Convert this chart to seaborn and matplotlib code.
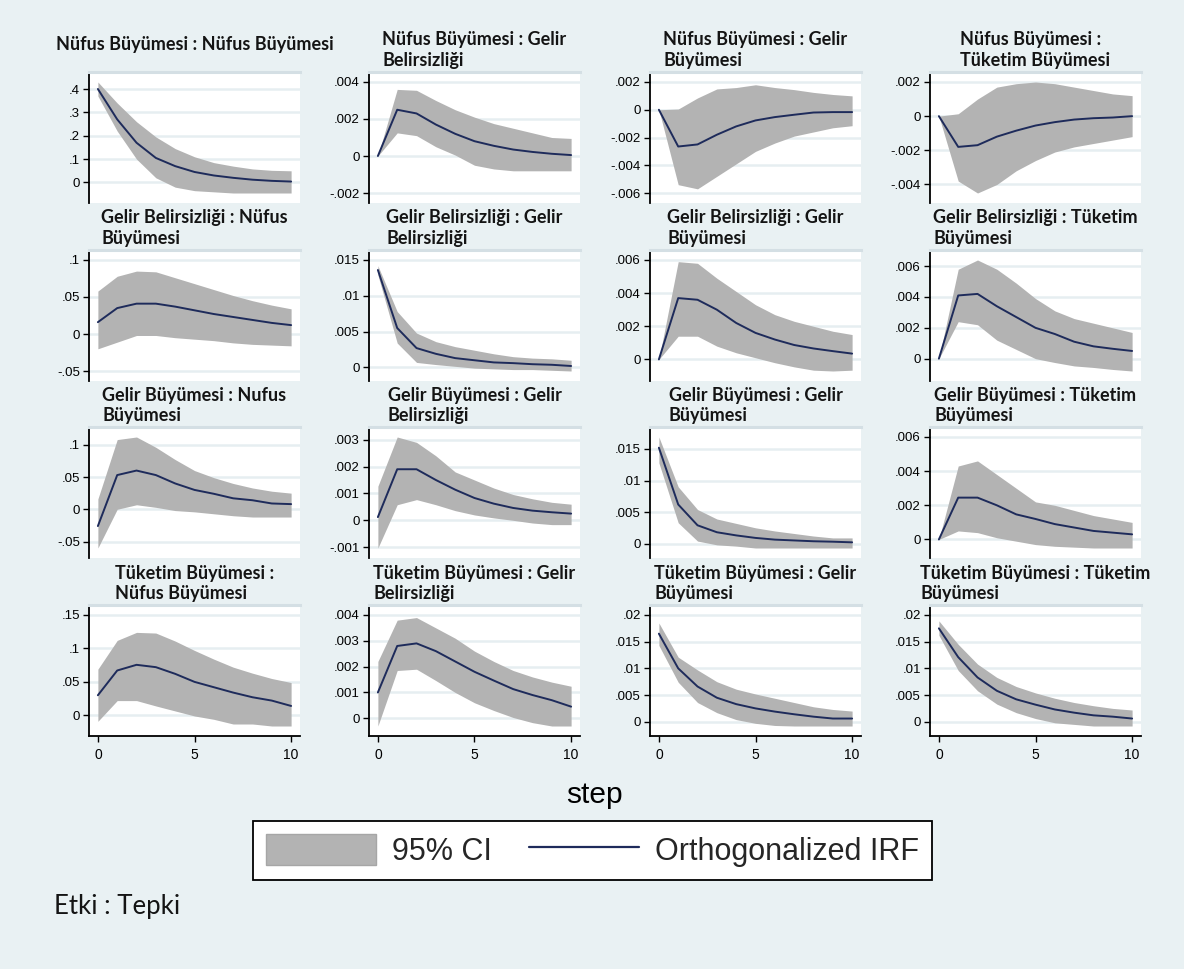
import matplotlib
matplotlib.use("Agg")
import matplotlib.pyplot as plt
from matplotlib.patches import Patch
from matplotlib.lines import Line2D
import numpy as np
import pandas as pd
import seaborn as sns

# ---------------------------------------------------------------------------
# Orthogonalized impulse responses, steps 0..10 (impulse : response)
# pop = Nüfus Büyümesi, unc = Gelir Belirsizliği,
# inc = Gelir Büyümesi, con = Tüketim Büyümesi
# ---------------------------------------------------------------------------
steps = list(range(11))

pop_pop_irf = [0.40, 0.27, 0.17, 0.105, 0.07, 0.045, 0.03, 0.02, 0.012, 0.007, 0.004]
pop_pop_lo = [0.37, 0.22, 0.10, 0.02, -0.02, -0.035, -0.04, -0.045, -0.045, -0.045, -0.045]
pop_pop_hi = [0.43, 0.34, 0.26, 0.195, 0.145, 0.11, 0.085, 0.07, 0.058, 0.052, 0.05]

pop_unc_irf = [0.0, 0.0025, 0.0023, 0.0017, 0.0012, 0.0008, 0.00055, 0.00035, 0.00022, 0.00012, 0.00005]
pop_unc_lo = [0.0, 0.00125, 0.0011, 0.0005, 0.00005, -0.0005, -0.0007, -0.0008, -0.0008, -0.0008, -0.0008]
pop_unc_hi = [0.0, 0.0036, 0.00355, 0.003, 0.0025, 0.0021, 0.00175, 0.0015, 0.00125, 0.001, 0.00095]

pop_inc_irf = [0.0, -0.00265, -0.0025, -0.0018, -0.0012, -0.00077, -0.00053, -0.00036, -0.0002, -0.00017, -0.00017]
pop_inc_lo = [0.0, -0.0054, -0.0057, -0.0048, -0.0039, -0.003, -0.0024, -0.0019, -0.0016, -0.0013, -0.00115]
pop_inc_hi = [0.0, 0.00005, 0.00085, 0.0015, 0.0016, 0.0018, 0.0016, 0.00145, 0.00125, 0.0011, 0.001]

pop_con_irf = [0.0, -0.0018, -0.0017, -0.0012, -0.00085, -0.00055, -0.00035, -0.0002, -0.00012, -0.00008, 0.0]
pop_con_lo = [0.0, -0.0038, -0.0045, -0.004, -0.0032, -0.0026, -0.0021, -0.0018, -0.0016, -0.0014, -0.0012]
pop_con_hi = [0.0, 0.00014, 0.001, 0.0017, 0.0019, 0.002, 0.0019, 0.0017, 0.0015, 0.0013, 0.0012]

unc_pop_irf = [0.016, 0.035, 0.041, 0.041, 0.037, 0.032, 0.027, 0.023, 0.019, 0.015, 0.012]
unc_pop_lo = [-0.02, -0.011, -0.002, -0.002, -0.005, -0.007, -0.009, -0.012, -0.014, -0.015, -0.016]
unc_pop_hi = [0.058, 0.078, 0.085, 0.084, 0.076, 0.068, 0.06, 0.052, 0.045, 0.039, 0.034]

unc_unc_irf = [0.0136, 0.0055, 0.0027, 0.0019, 0.0013, 0.001, 0.0007, 0.0006, 0.00045, 0.00037, 0.0002]
unc_unc_lo = [0.0129, 0.0034, 0.0007, 0.0004, 0.00015, -0.0001, -0.0002, -0.0003, -0.0003, -0.0004, -0.0005]
unc_unc_hi = [0.0142, 0.0078, 0.0048, 0.0036, 0.0029, 0.0024, 0.0019, 0.0015, 0.0013, 0.0012, 0.001]

unc_inc_irf = [0.0, 0.0037, 0.0036, 0.003, 0.0022, 0.0016, 0.0012, 0.00087, 0.00066, 0.0005, 0.00035]
unc_inc_lo = [0.0, 0.0014, 0.0014, 0.0008, 0.0004, 0.0001, -0.0002, -0.00045, -0.00065, -0.0007, -0.00065]
unc_inc_hi = [0.0, 0.0059, 0.0058, 0.0049, 0.0041, 0.0033, 0.0027, 0.0023, 0.002, 0.0017, 0.0015]

unc_con_irf = [0.0, 0.0041, 0.0042, 0.0034, 0.0027, 0.002, 0.0016, 0.0011, 0.0008, 0.00064, 0.0005]
unc_con_lo = [0.0, 0.0024, 0.0022, 0.0012, 0.0006, 0.0, -0.00025, -0.00047, -0.00057, -0.0007, -0.0008]
unc_con_hi = [0.0, 0.0058, 0.0064, 0.0058, 0.0049, 0.0039, 0.0031, 0.0026, 0.0023, 0.002, 0.0017]

inc_pop_irf = [-0.026, 0.053, 0.06, 0.053, 0.04, 0.03, 0.024, 0.017, 0.014, 0.009, 0.008]
inc_pop_lo = [-0.06, 0.0, 0.007, 0.003, -0.002, -0.004, -0.007, -0.01, -0.012, -0.012, -0.012]
inc_pop_hi = [0.016, 0.108, 0.112, 0.096, 0.077, 0.06, 0.049, 0.04, 0.033, 0.028, 0.025]

inc_unc_irf = [0.00012, 0.0019, 0.0019, 0.0015, 0.00114, 0.00083, 0.00062, 0.00046, 0.00036, 0.0003, 0.00025]
inc_unc_lo = [-0.00103, 0.00058, 0.00077, 0.00058, 0.00036, 0.0002, 0.00009, 0.0, -0.0001, -0.00016, -0.00016]
inc_unc_hi = [0.00127, 0.0031, 0.0029, 0.0024, 0.0018, 0.0015, 0.0012, 0.00096, 0.0008, 0.00067, 0.0006]

inc_inc_irf = [0.0152, 0.0062, 0.0029, 0.0018, 0.0013, 0.0009, 0.00063, 0.0005, 0.00037, 0.0003, 0.0002]
inc_inc_lo = [0.0128, 0.0033, 0.0004, -0.0002, -0.0004, -0.0007, -0.0007, -0.0007, -0.0007, -0.0007, -0.0007]
inc_inc_hi = [0.0169, 0.009, 0.0054, 0.0039, 0.0032, 0.0025, 0.002, 0.0016, 0.0012, 0.0009, 0.0009]

inc_con_irf = [0.0, 0.00245, 0.00245, 0.002, 0.00147, 0.0012, 0.0009, 0.0007, 0.0005, 0.0004, 0.0003]
inc_con_lo = [0.0, 0.0005, 0.0004, 0.0001, -0.0001, -0.0003, -0.0004, -0.00045, -0.0005, -0.0005, -0.0005]
inc_con_hi = [0.0, 0.0043, 0.0046, 0.0038, 0.003, 0.0022, 0.002, 0.0017, 0.0014, 0.0012, 0.001]

con_pop_irf = [0.03, 0.067, 0.0755, 0.072, 0.062, 0.05, 0.042, 0.034, 0.027, 0.022, 0.014]
con_pop_lo = [-0.009, 0.022, 0.022, 0.014, 0.0065, -0.001, -0.006, -0.013, -0.013, -0.016, -0.016]
con_pop_hi = [0.069, 0.112, 0.124, 0.123, 0.111, 0.097, 0.084, 0.072, 0.063, 0.055, 0.049]

con_unc_irf = [0.001, 0.0028, 0.0029, 0.0026, 0.0022, 0.0018, 0.00146, 0.00113, 0.0009, 0.0007, 0.00045]
con_unc_lo = [-0.0003, 0.00185, 0.0019, 0.00146, 0.001, 0.0006, 0.0003, 0.00003, -0.00017, -0.0003, -0.0003]
con_unc_hi = [0.0022, 0.0038, 0.0039, 0.0035, 0.0031, 0.0026, 0.0022, 0.00185, 0.0016, 0.0014, 0.00124]

con_inc_irf = [0.0165, 0.01, 0.0066, 0.0045, 0.0033, 0.0025, 0.0019, 0.0014, 0.00095, 0.0006, 0.0006]
con_inc_lo = [0.0143, 0.0074, 0.0036, 0.0017, 0.0004, -0.0003, -0.0007, -0.0008, -0.0008, -0.0008, -0.0008]
con_inc_hi = [0.0185, 0.0121, 0.0097, 0.0075, 0.0061, 0.0052, 0.0044, 0.0036, 0.0028, 0.0023, 0.002]

con_con_irf = [0.0175, 0.0121, 0.0083, 0.0058, 0.0042, 0.0032, 0.0023, 0.0017, 0.0012, 0.00095, 0.0006]
con_con_lo = [0.0162, 0.0096, 0.0058, 0.0033, 0.0017, 0.0006, -0.0002, -0.0005, -0.0008, -0.0008, -0.0008]
con_con_hi = [0.0189, 0.0145, 0.0108, 0.0083, 0.0066, 0.0054, 0.0044, 0.0036, 0.003, 0.0025, 0.0022]

# panel titles, row by row
titles = [
    "Nüfus Büyümesi : Nüfus Büyümesi",
    "Nüfus Büyümesi : Gelir\nBelirsizliği",
    "Nüfus Büyümesi : Gelir\nBüyümesi",
    "Nüfus Büyümesi :\nTüketim Büyümesi",
    "Gelir Belirsizliği : Nüfus\nBüyümesi",
    "Gelir Belirsizliği : Gelir\nBelirsizliği",
    "Gelir Belirsizliği : Gelir\nBüyümesi",
    "Gelir Belirsizliği : Tüketim\nBüyümesi",
    "Gelir Büyümesi : Nufus\nBüyümesi",
    "Gelir Büyümesi : Gelir\nBelirsizliği",
    "Gelir Büyümesi : Gelir\nBüyümesi",
    "Gelir Büyümesi : Tüketim\nBüyümesi",
    "Tüketim Büyümesi :\nNüfus Büyümesi",
    "Tüketim Büyümesi : Gelir\nBelirsizliği",
    "Tüketim Büyümesi : Gelir\nBüyümesi",
    "Tüketim Büyümesi : Tüketim\nBüyümesi",
]

# y-axis ticks of each panel, row by row
yticks = [
    [0, 0.1, 0.2, 0.3, 0.4],
    [-0.002, 0, 0.002, 0.004],
    [-0.006, -0.004, -0.002, 0, 0.002],
    [-0.004, -0.002, 0, 0.002],
    [-0.05, 0, 0.05, 0.1],
    [0, 0.005, 0.01, 0.015],
    [0, 0.002, 0.004, 0.006],
    [0, 0.002, 0.004, 0.006],
    [-0.05, 0, 0.05, 0.1],
    [-0.001, 0, 0.001, 0.002, 0.003],
    [0, 0.005, 0.01, 0.015],
    [0, 0.002, 0.004, 0.006],
    [0, 0.05, 0.1, 0.15],
    [0, 0.001, 0.002, 0.003, 0.004],
    [0, 0.005, 0.01, 0.015, 0.02],
    [0, 0.005, 0.01, 0.015, 0.02],
]
xticks = [0, 5, 10]

series = [
    (pop_pop_irf, pop_pop_lo, pop_pop_hi), (pop_unc_irf, pop_unc_lo, pop_unc_hi),
    (pop_inc_irf, pop_inc_lo, pop_inc_hi), (pop_con_irf, pop_con_lo, pop_con_hi),
    (unc_pop_irf, unc_pop_lo, unc_pop_hi), (unc_unc_irf, unc_unc_lo, unc_unc_hi),
    (unc_inc_irf, unc_inc_lo, unc_inc_hi), (unc_con_irf, unc_con_lo, unc_con_hi),
    (inc_pop_irf, inc_pop_lo, inc_pop_hi), (inc_unc_irf, inc_unc_lo, inc_unc_hi),
    (inc_inc_irf, inc_inc_lo, inc_inc_hi), (inc_con_irf, inc_con_lo, inc_con_hi),
    (con_pop_irf, con_pop_lo, con_pop_hi), (con_unc_irf, con_unc_lo, con_unc_hi),
    (con_inc_irf, con_inc_lo, con_inc_hi), (con_con_irf, con_con_lo, con_con_hi),
]

# ---------------------------------------------------------------------------
# styling
# ---------------------------------------------------------------------------
sns.set_style("white")
plt.rcParams["font.family"] = ["Liberation Sans", "DejaVu Sans"]

BG = "#E9F1F3"
GRID = "#E6EEF1"
BAND = "#D4DFE4"
CI_COLOR = "#B3B3B3"
LINE_COLOR = "#1E2B5B"
TITLE_FONT = ["Lato", "DejaVu Sans"]

W, H = 1184, 969
fig = plt.figure(figsize=(W / 100, H / 100), dpi=100, facecolor=BG)

col_left = [89, 369, 650, 930]
row_top = [72, 250, 427, 605]
pw, ph = 211, 131


def stata_fmt(v, _pos=None):
    if abs(v) < 1e-12:
        return "0"
    s = f"{v:g}"
    return s.replace("-0.", "-.").replace("0.", ".", 1) if s.startswith(("0.", "-0.")) else s


for k, (irf, lo, hi) in enumerate(series):
    r, c = divmod(k, 4)
    left, top = col_left[c], row_top[r]
    ax = fig.add_axes([left / W, 1 - (top + ph) / H, pw / W, ph / H])
    ax.set_facecolor("white")

    df = pd.DataFrame({"step": steps, "irf": irf, "lo": lo, "hi": hi})
    ax.fill_between(df["step"], df["lo"], df["hi"], color=CI_COLOR, lw=0, zorder=2)
    sns.lineplot(data=df, x="step", y="irf", ax=ax, color=LINE_COLOR, lw=1.4,
                 zorder=3, legend=False)

    ticks = yticks[k]
    ymin = min(ticks[0], min(lo))
    ymax = max(ticks[-1], max(hi))
    pad = 0.09 * (ymax - ymin)
    ax.set_ylim(ymin - pad, ymax + pad)
    ax.set_xlim(-0.46, 10.46)
    ax.set_yticks(ticks)
    ax.yaxis.set_major_formatter(plt.FuncFormatter(stata_fmt))
    ax.yaxis.grid(True, color=GRID, lw=1.8)
    ax.xaxis.grid(False)
    ax.set_axisbelow(True)
    ax.set_xlabel("")
    ax.set_ylabel("")

    ax.spines["left"].set_color("black")
    ax.spines["left"].set_linewidth(1.3)
    ax.spines["right"].set_visible(False)
    ax.spines["top"].set_color(BAND)
    ax.spines["top"].set_linewidth(2.2)
    ax.tick_params(axis="y", direction="out", length=4.5, width=1.0, pad=2,
                   labelsize=9.5, colors="black", left=True)
    if r == 3:
        ax.spines["bottom"].set_color("black")
        ax.spines["bottom"].set_linewidth(1.3)
        ax.set_xticks(xticks)
        ax.tick_params(axis="x", direction="out", length=4.5, width=1.0, pad=4,
                       labelsize=10, colors="black", bottom=True)
    else:
        ax.spines["bottom"].set_visible(False)
        ax.set_xticks([])

    title = titles[k]
    if "\n" in title:
        ty = top - 6
    else:
        ty = top - 22
    fig.text((left + pw / 2) / W, 1 - ty / H, title, ha="center", va="baseline",
             multialignment="left", fontsize=13, fontweight="bold",
             family=TITLE_FONT, color="#141414", linespacing=1.25)

# common x-axis title
fig.text(594 / W, 1 - 795 / H, "step", ha="center", va="center", fontsize=21.5,
         color="black")

# legend
handles = [
    Patch(facecolor=CI_COLOR, edgecolor="#A6A6A6", linewidth=1.0),
    Line2D([0], [0], color=LINE_COLOR, lw=1.6),
]
leg = fig.legend(handles, ["95% CI", "Orthogonalized IRF"], loc="center",
                 bbox_to_anchor=(592.5 / W, 1 - 850.5 / H), ncol=2,
                 fontsize=22, frameon=True, fancybox=False, shadow=False,
                 borderpad=0.42, handlelength=3.6, handleheight=1.15,
                 handletextpad=0.54, columnspacing=1.2, borderaxespad=0)
frame = leg.get_frame()
frame.set_edgecolor("black")
frame.set_linewidth(1.3)
frame.set_facecolor("white")
frame.set_alpha(1)

# note under the legend
fig.text(54 / W, 1 - 914 / H, "Etki : Tepki", ha="left", va="baseline",
         fontsize=18.5, family=TITLE_FONT, color="#141414")

fig.savefig("out.png", dpi=100, facecolor=BG)
